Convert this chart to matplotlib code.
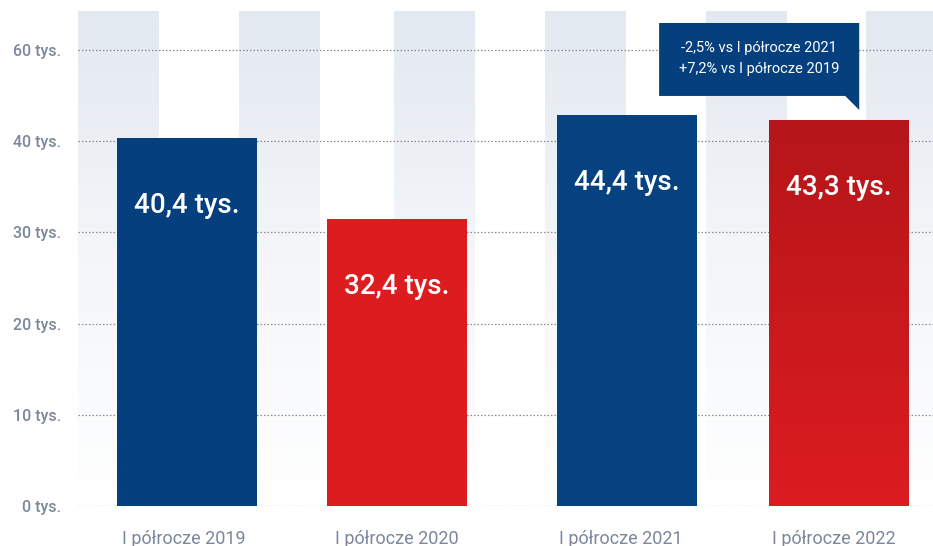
import numpy as np
import matplotlib
matplotlib.use("Agg")
import matplotlib.pyplot as plt
from matplotlib.patches import Polygon
from matplotlib.colors import LinearSegmentedColormap

plt.rcParams['font.family'] = ['Roboto', 'DejaVu Sans']

# data
categories = ['I półrocze 2019', 'I półrocze 2020', 'I półrocze 2021', 'I półrocze 2022']
bar_heights = [40.35, 31.5, 42.9, 42.3]          # heights as drawn in the picture
bar_labels = ['40,4 tys.', '32,4 tys.', '44,4 tys.', '43,3 tys.']
ytick_values = [0, 10, 20, 30, 40, 50]
ytick_labels = ['0 tys.', '10 tys.', '20 tys.', '30 tys.', '40 tys.', '60 tys.']
callout_lines = ['-2,5% vs I półrocze 2021', '+7,2% vs I półrocze 2019']

# layout
bar_pos = [0, 1, 2.1, 3.11]
label_pos = [-0.017, 1, 2.07, 3.086]
bar_width = 0.668
bar_colors = ['#053f7d', '#dc1c1f', '#06427f', None]
stripe_left = [-0.520, 0.248, 0.988, 1.709, 2.477, 3.241]
stripe_width = 0.382
stripe_top = 54.17
tick_color = '#7b879c'
navy = '#053f7d'

fig = plt.figure(figsize=(9.33, 5.46), dpi=100)
ax = fig.add_axes([78 / 933, 40 / 546, 855 / 933, 506 / 546])
ax.set_xlim(-0.52, 3.56)
ax.set_ylim(0, 55.48)

# background stripes with vertical gradient
stripe_cmap = LinearSegmentedColormap.from_list('stripe', ['#ffffff', '#f4f6f9', '#e3e9f1'])
grad = np.linspace(0, 1, 256).reshape(-1, 1)
for x0 in stripe_left:
    ax.imshow(grad, cmap=stripe_cmap, aspect='auto', origin='lower',
              extent=(x0, x0 + stripe_width, 0, stripe_top), zorder=0)

# dotted grid lines
for v in ytick_values:
    ax.axhline(v, color='#8c8c8c', lw=0.9, ls=(0, (1.2, 1.6)), zorder=1)

# bars
bars = ax.bar(bar_pos, bar_heights, width=bar_width, zorder=2)
for b, c in zip(bars, bar_colors):
    if c is not None:
        b.set_facecolor(c)
    else:
        b.set_facecolor('none')
        red_cmap = LinearSegmentedColormap.from_list('red', ['#dc1c20', '#b5161a'])
        x0 = b.get_x()
        im = ax.imshow(grad, cmap=red_cmap, aspect='auto', origin='lower',
                       extent=(x0, x0 + b.get_width(), 0, b.get_height()), zorder=2)
        im.set_clip_path(b)

# value labels inside bars
for x, h, t in zip(bar_pos, bar_heights, bar_labels):
    ax.text(x, h - 7.4, t, ha='center', va='center', color='white',
            fontsize=20, fontweight='medium', zorder=3)

# callout box
box = Polygon([(2.253, 52.96), (3.208, 52.96), (3.208, 43.42), (3.141, 44.96), (2.253, 44.96)],
              closed=True, facecolor=navy, edgecolor='none', zorder=4)
ax.add_patch(box)
ax.text(2.73, 50.2, callout_lines[0], ha='center', va='center', color='white', fontsize=10.5, zorder=5)
ax.text(2.73, 47.9, callout_lines[1], ha='center', va='center', color='white', fontsize=10.5, zorder=5)

# axes styling
ax.set_yticks(ytick_values)
ax.set_yticklabels(ytick_labels, color=tick_color, fontsize=11.5, fontweight='medium')
ax.set_xticks(label_pos)
ax.set_xticklabels(categories, color=tick_color, fontsize=13)
ax.tick_params(axis='both', length=0)
ax.tick_params(axis='y', pad=12)
ax.tick_params(axis='x', pad=17)
for s in ax.spines.values():
    s.set_visible(False)

fig.savefig('out.png', dpi=100)
